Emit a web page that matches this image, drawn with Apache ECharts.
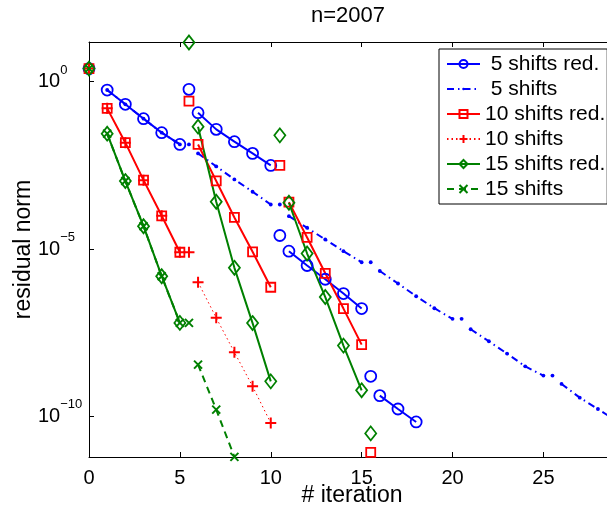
<!DOCTYPE html>
<html>
<head>
<meta charset="utf-8">
<title>n=2007</title>
<script src="https://cdn.jsdelivr.net/npm/echarts@6/dist/echarts.min.js"></script>
<style>
  html, body { margin: 0; padding: 0; background: #fff; }
  #chart { width: 607px; height: 506px; }
</style>
</head>
<body>
<div id="chart"></div>
<script>
// Axis ticks
const xTickValues = [0, 5, 10, 15, 20, 25];
const yTickValues = [1, 1e-5, 1e-10];

// Iteration numbers: a restart value is plotted half a step after each cycle,
// then each cycle runs over five iterations.
const restartIters = [0, 5.5, 10.5, 15.5, 20.5, 25.5];
const cycleIters = [
  [1, 2, 3, 4, 5],
  [6, 7, 8, 9, 10],
  [11, 12, 13, 14, 15],
  [16, 17, 18, 19, 20],
  [21, 22, 23, 24, 25],
  [26, 27, 28, 29, 30]
];

// 5 shifts, reduced
const red5Restart = [2.45, 0.588, 2.53e-5, 1.57e-9];
const red5Cycles = [
  [0.561, 0.21, 0.0783, 0.0298, 0.0133],
  [0.118, 0.0375, 0.0161, 0.00718, 0.00314],
  [8.6e-6, 3.21e-6, 1.25e-6, 4.67e-7, 1.66e-7],
  [4.16e-10, 1.66e-10, 6.8e-11]
];
// 5 shifts
const full5Restart = [2.45, 0.0133, 2.14e-4, 4.03e-6, 8.18e-8, 1.65e-9];
const full5Cycles = [
  [0.561, 0.21, 0.0783, 0.0298, 0.0133],
  [7.18e-3, 2.93e-3, 1.2e-3, 5.14e-4, 2.14e-4],
  [9.57e-5, 4.3e-5, 1.92e-5, 8.6e-6, 4.03e-6],
  [2.2e-6, 9.3e-7, 3.88e-7, 1.7e-7, 8.18e-8],
  [4.0e-8, 1.75e-8, 7.5e-9, 3.13e-9, 1.65e-9],
  [9.3e-10, 3.62e-10, 1.66e-10, 7.4e-11]
];
// 10 shifts, reduced
const red10Restart = [2.45, 0.263, 3.14e-3, 8.4e-12];
const red10Cycles = [
  [0.159, 0.015, 1.14e-3, 9.8e-5, 8.0e-6],
  [0.0133, 1.08e-3, 8.75e-5, 8.24e-6, 7.2e-7],
  [2.51e-4, 2.21e-5, 1.88e-6, 1.66e-7, 1.39e-8]
];
// 10 shifts
const full10Restart = [2.45, 8.0e-6];
const full10Cycles = [
  [0.159, 0.015, 1.14e-3, 9.8e-5, 8.0e-6],
  [1.02e-6, 8.77e-8, 8.2e-9, 7.9e-10, 6.35e-11]
];
// 15 shifts, reduced
const red15Restart = [2.45, 14.7, 0.0248, 3.1e-11];
const red15Cycles = [
  [0.0279, 1.07e-3, 4.8e-5, 1.54e-6, 6.2e-8],
  [0.0451, 2.58e-4, 2.74e-6, 6.12e-8, 1.11e-9],
  [2.41e-4, 7.33e-6, 3.67e-7, 1.3e-8, 6.0e-10]
];
// 15 shifts
const full15Restart = [2.45, 6.2e-8];
const full15Cycles = [
  [0.0279, 1.07e-3, 4.8e-5, 1.54e-6, 6.2e-8],
  [3.52e-9, 1.59e-10, 6.17e-12]
];

const FONT = "'Liberation Sans', Arial, Helvetica, sans-serif";
const BLUE = '#0000ff', RED = '#ff0000', GREEN = '#008000';
const GAP = ['-', '-'];

// Restart values stand alone; each cycle is one connected run.
function buildData(restart, cycles) {
  const out = [];
  const n = Math.max(restart.length, cycles.length);
  for (let k = 0; k < n; k++) {
    if (restart[k] != null) {
      out.push([restartIters[k], restart[k]], GAP);
    }
    if (cycles[k]) {
      cycles[k].forEach((v, i) => out.push([cycleIters[k][i], v]));
      out.push(GAP);
    }
  }
  return out;
}

const PLUS = 'path://M0,5L10,5M5,0L5,10';
const CROSS = 'path://M0,0L10,10M10,0L0,10';
const DOT = 'path://M0,0M10,10M3.4,5A1.6,1.6,0,1,1,6.6,5A1.6,1.6,0,1,1,3.4,5Z';

function makeSeries(name, color, data, opts) {
  return {
    type: 'line',
    name: name,
    data: data,
    symbol: opts.symbol,
    symbolSize: opts.symbolSize,
    showSymbol: true,
    connectNulls: false,
    clip: true,
    animation: false,
    emphasis: { disabled: true },
    lineStyle: { color: color, width: opts.width, type: opts.type || 'solid' },
    itemStyle: opts.filled
      ? { color: color, borderWidth: 0 }
      : { color: 'rgba(0,0,0,0)', borderColor: color, borderWidth: opts.border || 1.8 }
  };
}

const series = [
  makeSeries(' 5 shifts red.', BLUE, buildData(red5Restart, red5Cycles),
    { symbol: 'circle', symbolSize: 11, width: 2 }),
  makeSeries(' 5 shifts', BLUE, buildData(full5Restart, full5Cycles),
    { symbol: DOT, symbolSize: 12, width: 2, type: [7, 4, 1.5, 4], filled: true }),
  makeSeries('10 shifts red.', RED, buildData(red10Restart, red10Cycles),
    { symbol: 'rect', symbolSize: 9, width: 2 }),
  makeSeries('10 shifts', RED, buildData(full10Restart, full10Cycles),
    { symbol: PLUS, symbolSize: 11, width: 1, type: [1.5, 3], border: 2 }),
  makeSeries('15 shifts red.', GREEN, buildData(red15Restart, red15Cycles),
    { symbol: 'diamond', symbolSize: [11, 14], width: 2 }),
  makeSeries('15 shifts', GREEN, buildData(full15Restart, full15Cycles),
    { symbol: CROSS, symbolSize: 8, width: 2, type: [7, 5], border: 2 })
];

const chart = echarts.init(document.getElementById('chart'), null, { renderer: 'canvas' });

const axisLine = { show: true, onZero: false, lineStyle: { color: '#000', width: 1 } };

chart.setOption({
  animation: false,
  backgroundColor: '#fff',
  title: {
    text: 'n=2007',
    left: 348,
    top: 5,
    padding: 0,
    textAlign: 'center',
    textStyle: { fontFamily: FONT, fontSize: 22, fontWeight: 'normal', color: '#000' }
  },
  grid: { left: 89, right: 0, top: 42, bottom: 49, containLabel: false, outerBoundsMode: 'none' },
  legend: {
    orient: 'vertical',
    left: 439,
    top: 49,
    padding: [4.5, 2, 4.5, 7],
    itemWidth: 33,
    itemHeight: 10,
    itemGap: 4,
    backgroundColor: '#fff',
    borderColor: '#000',
    borderWidth: 1,
    borderRadius: 0,
    selectedMode: false,
    textStyle: { fontFamily: FONT, fontSize: 21, lineHeight: 21, color: '#000' },
    data: series.map(s => s.name)
  },
  xAxis: [
    {
      type: 'value',
      min: 0,
      max: 28.5,
      position: 'bottom',
      axisLine: axisLine,
      axisTick: { show: true, inside: true, length: 5, customValues: xTickValues, lineStyle: { color: '#000' } },
      axisLabel: { customValues: xTickValues, fontFamily: FONT, fontSize: 20, color: '#000', margin: 11 },
      splitLine: { show: false },
      name: '# iteration',
      nameLocation: 'middle',
      nameMoveOverlap: false,
      nameGap: 27,
      nameTextStyle: { fontFamily: FONT, fontSize: 23, color: '#000', padding: [0, 0, 0, 8] }
    },
    {
      type: 'value',
      min: 0,
      max: 28.5,
      position: 'top',
      axisLine: axisLine,
      axisTick: { show: true, inside: true, length: 5, customValues: xTickValues, lineStyle: { color: '#000' } },
      axisLabel: { show: false },
      splitLine: { show: false }
    }
  ],
  yAxis: {
    type: 'log',
    logBase: 10,
    min: Math.pow(10, -11.214),
    max: Math.pow(10, 1.184),
    axisLine: axisLine,
    axisTick: { show: true, inside: true, length: 5, customValues: yTickValues, lineStyle: { color: '#000' } },
    minorTick: { show: false },
    axisLabel: {
      customValues: yTickValues,
      align: 'left',
      margin: 51,
      formatter: function (v) {
        const e = Math.round(Math.log10(v));
        return '{b|10}{e|' + (e < 0 ? '\u2212' + (-e) : String(e)) + '}';
      },
      rich: {
        b: { fontFamily: FONT, fontSize: 20, lineHeight: 36, color: '#000' },
        e: { fontFamily: FONT, fontSize: 13, lineHeight: 15, verticalAlign: 'top', color: '#000' }
      }
    },
    splitLine: { show: false },
    name: 'residual norm',
    nameLocation: 'middle',
    nameMoveOverlap: false,
    nameGap: 54,
    nameRotate: 90,
    nameTextStyle: { fontFamily: FONT, fontSize: 23, color: '#000' }
  },
  series: series
});
</script>
</body>
</html>
